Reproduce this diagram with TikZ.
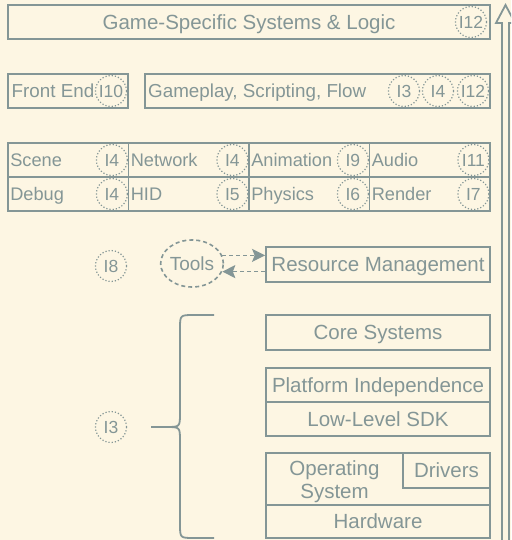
\documentclass[tikz,border=0pt]{standalone}
\usepackage{fontspec}
\setmainfont{Liberation Sans}
\usetikzlibrary{shapes.geometric,arrows.meta}
\definecolor{bg}{HTML}{FDF6E3}
\definecolor{lc}{HTML}{849696}
\begin{document}
\begin{tikzpicture}[x=1pt,y=-1pt,
  box/.style={draw=lc,line width=1.8pt,rectangle,inner sep=0pt,text=lc},
  big/.style={font=\fontsize{20.5}{23.3}\selectfont,text height=14.7pt,text depth=0pt},
  mid/.style={text=lc,inner sep=0pt,anchor=west,font=\fontsize{18.8}{22}\selectfont,text height=13.5pt,text depth=0pt},
  small/.style={text=lc,inner sep=0pt,anchor=west,font=\fontsize{18.2}{22}\selectfont,text height=13pt,text depth=0pt},
  tag/.style={circle,draw=lc,dotted,line width=1.2pt,minimum size=31pt,inner sep=0pt,text=lc,
    font=\fontsize{17.5}{20}\selectfont,text height=12.5pt,text depth=0pt},
  cell/.style={box,minimum width=120.5pt,minimum height=34pt},
  layer/.style={box,big,minimum width=224pt},
  darrow/.style={draw=lc,line width=1.6pt,dash pattern=on 4pt off 3pt,-{Stealth[length=13pt,width=13pt,inset=2.5pt]}}
]
\fill[bg] (0,0) rectangle (511,540);
\useasboundingbox (0,0) rectangle (511,540);
\clip (0,0) rectangle (511,540);

% top
\node[box,big,minimum width=482pt,minimum height=34pt] (game) at (249,22) {Game-Specific Systems \& Logic};
\node[tag] (t12a) at (471,22) {I12};

% second row
\node[box,minimum width=120pt,minimum height=34pt] (front) at (68,91) {};
\node[mid] (frontl) at (11.5,91) {Front End};
\node[tag] (t10) at (111,91) {I10};
\node[box,minimum width=345pt,minimum height=34pt] (gp) at (317.5,91) {};
\node[mid] (gpl) at (148,91) {Gameplay, Scripting, Flow};
\node[tag] (t3a) at (404,91) {I3};
\node[tag] (t4a) at (438,91) {I4};
\node[tag] (t12b) at (473,91) {I12};

% grid
\node[cell] (scene) at (68.25,160) {};
\node[cell] (network) at (188.75,160) {};
\node[cell] (anim) at (309.25,160) {};
\node[cell] (audio) at (429.75,160) {};
\node[cell] (debug) at (68.25,194) {};
\node[cell] (hid) at (188.75,194) {};
\node[cell] (physics) at (309.25,194) {};
\node[cell] (render) at (429.75,194) {};

\node[small] (scenel) at ([xshift=3pt]scene.west) {Scene};
\node[small] (networkl) at ([xshift=3pt]network.west) {Network};
\node[small] (animl) at ([xshift=3pt]anim.west) {Animation};
\node[small] (audiol) at ([xshift=3pt]audio.west) {Audio};
\node[small] (debugl) at ([xshift=3pt]debug.west) {Debug};
\node[small] (hidl) at ([xshift=3pt]hid.west) {HID};
\node[small] (physicsl) at ([xshift=3pt]physics.west) {Physics};
\node[small] (renderl) at ([xshift=3pt]render.west) {Render};

\node[tag] (ts1) at ([xshift=-17.5pt]scene.east) {I4};
\node[tag] (ts2) at ([xshift=-17.5pt]network.east) {I4};
\node[tag] (ts3) at ([xshift=-17.5pt]anim.east) {I9};
\node[tag] (ts4) at ([xshift=-17.5pt]audio.east) {I11};
\node[tag] (ts5) at ([xshift=-17.5pt]debug.east) {I4};
\node[tag] (ts6) at ([xshift=-17.5pt]hid.east) {I5};
\node[tag] (ts7) at ([xshift=-17.5pt]physics.east) {I6};
\node[tag] (ts8) at ([xshift=-17.5pt]render.east) {I7};

% tools row
\node[tag] (t8) at (111,266) {I8};
\node[ellipse,draw=lc,line width=1.6pt,dash pattern=on 4pt off 3pt,minimum width=58pt,minimum height=47pt,
  inner sep=0pt,text=lc,font=\fontsize{19}{22}\selectfont,text height=13.6pt,text depth=0pt] (tools) at (192,263.5) {Tools};
\node[layer,minimum height=35pt] (rm) at (378,264.5) {Resource Management};
\draw[darrow] (tools.15) -- (tools.15 -| rm.west);
\draw[darrow] (tools.-15 -| rm.west) -- (tools.-15);

% lower layers
\node[layer,minimum height=35pt] (core) at (378,332.5) {Core Systems};
\node[layer,minimum height=34pt] (pi) at (378,385) {Platform Independence};
\node[layer,minimum height=34pt] (sdk) at (378,419) {Low-Level SDK};
\node[box,minimum width=224pt,minimum height=52pt] (os) at (378,479) {};
\node[text=lc,inner sep=0pt,align=center,font=\fontsize{20.5}{23.3}\selectfont] (osl) at (334.5,482) {Operating\\System};
\node[box,big,minimum width=87pt,minimum height=35pt] (drv) at (446.5,470.5) {Drivers};
\node[layer,minimum height=33pt] (hw) at (378,521.5) {Hardware};

% brace and tag
\node[tag] (t3b) at (111,427) {I3};
\draw[lc,line width=1.8pt] (214,315) -- (194,315) .. controls (180,315) .. (180,329) -- (180,413)
  .. controls (180,427) .. (166,427) -- (151,427);
\draw[lc,line width=1.8pt] (214,538) -- (194,538) .. controls (180,538) .. (180,524) -- (180,441)
  .. controls (180,427) .. (166,427);

% right arrow
\draw[lc,line width=1.8pt,fill=bg,line join=miter] (502,545) -- (502,23) -- (496,23) -- (505.5,5) -- (515,23) -- (509,23) -- (509,545);
\end{tikzpicture}
\end{document}
